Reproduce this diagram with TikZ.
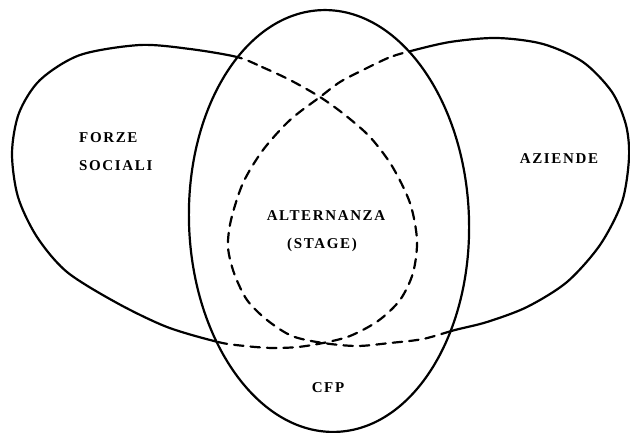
\documentclass[tikz,border=0pt]{standalone}
\usepackage{fontspec}
\setmainfont{Liberation Serif}
\newcommand\leftblobdraw[1]{\draw[#1] plot[smooth cycle, tension=0.5] coordinates {(237,57) (262,67) (290,80) (320,97) (345,115) (370,137) (392,166) (410,203) (417,240) (413,273) (400,300) (378,321) (350,336) (323,343) (298,347) (272,348) (245,346) (218,342) (167,327) (117,303) (67,272) (37,237) (18,197) (12,153) (19,113) (40,80) (80,55) (140,45) (190,49)};}
\newcommand\rightblobdraw[1]{\draw[#1] plot[smooth cycle, tension=0.5] coordinates {(407,52) (388,58) (363,70) (340,82) (320,97) (290,120) (263,150) (243,183) (231,220) (228,247) (234,273) (247,300) (267,320) (292,336) (323,343) (357,346) (390,343) (423,339) (455,330) (487,322) (527,307) (567,282) (600,245) (622,202) (629,158) (626,125) (612,92) (583,62) (543,44) (497,38) (450,42)};}
\begin{document}
\begin{tikzpicture}[x=1pt, y=-1pt, line cap=round, line join=round,
  solidline/.style={line width=2.2pt},
  dashline/.style={line width=2.2pt, dash pattern=on 9.5pt off 7pt},
  lbl/.style={font=\fontsize{15}{18}\selectfont\bfseries\addfontfeatures{LetterSpace=11},
    inner sep=0pt, text height=10.5pt, text depth=0pt}]
\useasboundingbox (0,0) rectangle (630,433);
% outside the CFP ellipse: solid
\begin{scope}[even odd rule, rotate around={2:(329,221)}]
  \clip (-150,-150) rectangle (780,583) (329,221) ellipse [x radius=140pt, y radius=211pt];
  \begin{scope}[rotate around={-2:(329,221)}]
    \leftblobdraw{solidline}
    \rightblobdraw{solidline}
  \end{scope}
\end{scope}
% inside the CFP ellipse: dashed
\begin{scope}[rotate around={2:(329,221)}]
  \clip (329,221) ellipse [x radius=140pt, y radius=211pt];
  \begin{scope}[rotate around={-2:(329,221)}]
    \leftblobdraw{dashline}
    \rightblobdraw{dashline}
  \end{scope}
\end{scope}
\draw[solidline, rotate around={2:(329,221)}] (329,221) ellipse [x radius=140pt, y radius=211pt];
% labels
\node[lbl, anchor=west] (forze) at (79,137) {FORZE};
\node[lbl, anchor=west] (sociali) at (79,165) {SOCIALI};
\node[lbl] (aziende) at (559,158) {AZIENDE};
\node[lbl] (alt) at (326,215) {ALTERNANZA};
\node[lbl] (stage) at (322,243) {(STAGE)};
\node[lbl] (cfp) at (328,387) {CFP};
\end{tikzpicture}
\end{document}
